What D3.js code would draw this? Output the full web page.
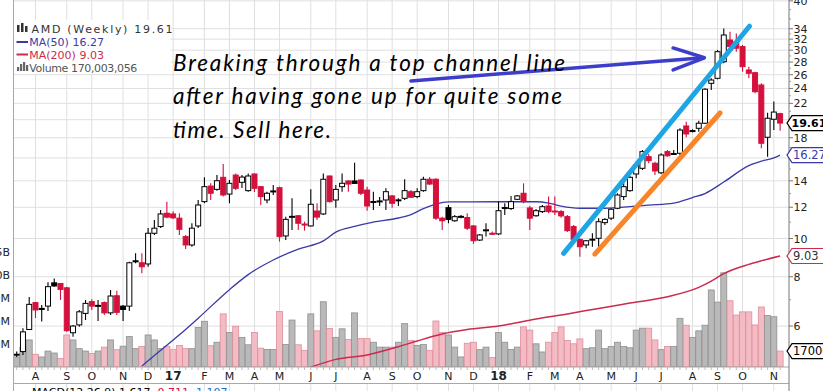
<!DOCTYPE html>
<html>
<head>
<meta charset="utf-8">
<script src="https://d3js.org/d3.v7.min.js"></script>
<style>
  body { margin: 0; background: #fff; }
  svg { display: block; font-family: "DejaVu Sans", Verdana, sans-serif; }
  .grid line { stroke: #dfdfdf; stroke-width: 1; }
  .axis-text { font-size: 11px; fill: #222; }
  .note { font-family: Lato, "Open Sans", sans-serif; font-style: italic; font-size: 22.5px; fill: #000; }
</style>
</head>
<body>
<svg id="chart"></svg>
<script>
// AMD weekly bars, first week = week of 11 Jul 2016, last = week of 12 Nov 2018
const opens = [5.07, 5.17, 5.88, 6.88, 6.65, 6.74, 7.72, 7.69, 7.50, 5.77,
  6.04, 6.46, 6.92, 6.76, 6.88, 6.48, 7.16, 6.74, 6.74, 8.78,
  8.68, 8.62, 10.31, 10.72, 11.59, 11.54, 11.26, 10.11, 9.63, 10.76,
  12.40, 13.58, 13.32, 14.29, 12.96, 14.48, 13.88, 13.22, 14.57, 13.53,
  12.52, 13.19, 13.45, 10.15, 11.34, 11.42, 10.88, 10.76, 11.74, 11.54,
  14.40, 12.52, 13.53, 13.99, 13.99, 14.07, 13.27, 12.40, 12.45, 12.52,
  12.82, 12.52, 12.64, 13.14, 12.77, 13.22, 14.13, 14.13, 11.26, 11.97,
  11.09, 11.36, 11.30, 10.76, 9.91, 10.51, 10.31, 10.27, 11.97, 11.91,
  12.57, 13.02, 11.95, 11.42, 11.70, 12.09, 11.74, 11.70, 11.36, 10.72,
  9.95, 9.63, 9.95, 10.01, 10.97, 11.26, 11.93, 12.77, 13.22, 14.57,
  15.06, 16.12, 15.51, 14.67, 16.60, 16.40, 16.44, 19.28, 18.75, 19.02,
  19.59, 24.73, 25.46, 28.05, 31.84, 31.52, 30.64, 26.73, 26.31, 24.49,
  18.05, 20.05, 20.72]
const highs = [5.17, 5.92, 7.11, 6.91, 6.78, 7.75, 7.92, 7.71, 7.55, 6.04,
  6.59, 6.99, 7.02, 6.99, 6.92, 7.40, 7.37, 6.78, 8.73, 9.18,
  9.18, 10.63, 11.14, 11.81, 12.40, 11.73, 11.59, 10.21, 10.93, 12.52,
  14.29, 13.80, 14.48, 15.45, 14.07, 14.62, 14.48, 14.62, 14.62, 13.58,
  13.14, 13.66, 13.53, 11.36, 12.64, 11.47, 11.03, 13.32, 12.28, 14.62,
  14.45, 13.66, 14.62, 14.02, 15.56, 14.10, 13.53, 13.14, 12.74, 13.40,
  12.89, 12.64, 14.13, 13.27, 13.40, 14.34, 14.31, 14.21, 11.36, 12.16,
  11.47, 11.47, 11.59, 10.82, 10.27, 10.93, 10.41, 12.40, 12.28, 12.82,
  12.89, 13.80, 12.09, 11.88, 12.16, 12.77, 12.77, 11.81, 11.47, 10.82,
  10.01, 9.91, 10.31, 11.26, 11.26, 11.93, 13.02, 14.07, 14.40, 15.65,
  16.76, 16.38, 15.65, 16.44, 16.76, 16.76, 19.02, 19.77, 18.92, 19.89,
  24.03, 25.46, 30.04, 34.06, 33.40, 33.09, 30.93, 27.25, 26.46, 24.73,
  20.84, 22.23, 20.84]
const lows = [5.01, 5.07, 5.86, 6.29, 6.16, 6.55, 7.55, 6.99, 5.80, 5.64,
  5.98, 6.22, 6.59, 6.18, 6.40, 6.40, 6.40, 6.18, 6.55, 8.65,
  8.16, 8.48, 10.21, 10.63, 11.26, 11.20, 10.21, 9.41, 9.53, 10.63,
  12.28, 12.52, 13.22, 12.77, 12.28, 13.27, 13.42, 13.14, 13.12, 12.16,
  12.28, 12.89, 9.82, 9.91, 10.51, 10.51, 10.47, 10.72, 11.14, 11.47,
  12.33, 11.97, 13.14, 13.14, 13.74, 12.89, 11.76, 11.81, 12.09, 11.81,
  11.97, 12.09, 12.52, 12.66, 12.64, 13.14, 13.66, 11.14, 10.51, 10.93,
  11.03, 11.25, 10.51, 9.69, 9.85, 10.11, 10.21, 10.21, 11.47, 11.81,
  12.52, 12.28, 10.51, 11.35, 11.61, 11.59, 11.47, 11.28, 10.39, 9.85,
  8.99, 9.45, 9.53, 9.53, 10.82, 11.14, 11.86, 12.52, 13.14, 14.21,
  14.91, 15.51, 14.48, 14.57, 16.12, 16.28, 16.28, 18.05, 18.58, 18.64,
  19.51, 23.79, 25.31, 27.78, 30.35, 29.74, 26.46, 25.46, 23.33, 16.93,
  16.12, 18.83, 18.75]
const closes = [5.09, 5.80, 6.81, 6.59, 6.64, 7.55, 7.58, 7.43, 5.84, 6.00,
  6.52, 6.85, 6.74, 6.77, 6.48, 7.15, 6.50, 6.61, 8.68, 8.73,
  8.48, 10.31, 10.62, 11.54, 11.33, 11.28, 10.55, 9.63, 10.62, 12.16,
  13.53, 13.02, 14.01, 12.89, 13.80, 13.40, 14.31, 14.40, 13.40, 12.77,
  13.02, 13.20, 10.11, 11.18, 11.38, 10.93, 10.87, 12.21, 11.33, 14.13,
  12.40, 13.32, 13.80, 13.74, 13.79, 13.02, 12.09, 12.41, 12.42, 13.14,
  12.28, 12.53, 13.22, 12.72, 13.14, 14.13, 13.74, 11.26, 11.09, 11.18,
  11.36, 11.38, 10.62, 9.87, 10.21, 10.52, 10.30, 11.76, 11.98, 12.40,
  12.82, 12.40, 11.26, 11.76, 12.04, 11.70, 11.68, 11.41, 10.47, 9.95,
  9.53, 9.87, 9.96, 11.03, 11.18, 11.86, 12.89, 13.53, 14.29, 15.36,
  16.60, 15.75, 14.83, 16.28, 16.20, 16.42, 18.83, 18.40, 18.77, 19.59,
  23.89, 25.21, 29.74, 32.78, 30.64, 30.35, 27.25, 26.22, 23.55, 17.43,
  20.17, 20.91, 19.61]
// weekly volume, millions of shares
const volumes = [106, 213, 291, 135, 106, 170, 149, 89, 345, 291,
  196, 170, 143, 170, 213, 291, 185, 223, 327, 196,
  220, 345, 291, 196, 223, 185, 231, 196, 196, 426,
  494, 228, 266, 574, 372, 440, 319, 238, 372, 202,
  188, 188, 600, 241, 507, 238, 178, 574, 390, 706,
  415, 319, 412, 295, 585, 305, 305, 266, 213, 213,
  213, 266, 468, 284, 231, 241, 178, 497, 372, 345,
  213, 106, 255, 266, 185, 213, 100, 372, 266, 188,
  213, 433, 398, 249, 160, 266, 372, 433, 284, 249,
  302, 196, 206, 398, 196, 220, 266, 220, 206, 398,
  419, 419, 291, 185, 220, 220, 526, 451, 319, 390,
  451, 834, 702, 1021, 717, 561, 596, 596, 454, 649,
  557, 543, 170]

// moving averages: [week index, value]
const ma50 = [[20, 4.75], [22, 5.05], [26, 5.7], [29, 6.28], [34, 7.42], [37, 8.1], [41, 8.82],
  [45, 9.4], [49, 9.86], [51, 10.38], [54, 10.73], [57, 11.0], [61, 11.27], [63, 11.5],
  [65, 11.9], [67, 12.22], [69, 12.38], [77, 12.39], [83, 12.39], [85, 12.3], [87, 12.08],
  [90, 11.93], [94, 11.93], [98, 12.04], [101, 12.15], [105, 12.3], [108, 12.7], [110, 13.0],
  [113, 13.9], [117, 15.3], [119, 15.7], [121, 16.0], [122, 16.27]]
const ma200 = [[47, 4.72], [51, 4.94], [56, 5.07], [61, 5.32], [64, 5.5], [68, 5.73], [72, 5.88],
  [77, 6.0], [83, 6.25], [88, 6.44], [93, 6.65], [98, 6.86], [104, 7.12], [109, 7.52],
  [111, 7.8], [113, 8.15], [117, 8.6], [119, 8.78], [122, 9.03]]

// hand drawn lines on the picture, in [week index, price]
const blueChannel = [[87.4, 9.17], [117.1, 34.5]]
const orangeChannel = [[92.4, 9.13], [112.4, 20.8]]
const arrowShaft = [[63, 25.07], [109.7, 28.7]]
const arrowHead = [[104.9, 30.4], [109.9, 28.7], [104.9, 26.73]]

const priceTicks = [6, 8, 10, 12, 14, 16, 18, 20, 22, 24, 26, 28, 30, 32, 34, 40]
const priceMinor = [7, 9, 11, 13, 15, 17, 19, 21, 23, 25, 27, 29, 31, 33, 36, 38]
const volumeTicks = [250, 500, 750, 1000, 1250]
const volumeTickLabels = ["250M", "500M", "750M", "1.00B", "1.25B"]
const monthLetters = ["J", "F", "M", "A", "M", "J", "J", "A", "S", "O", "N", "D"]
const noteLines = ["Breaking through a top channel line", "after having gone up for quite some", "time. Sell here."]

const width = 823, height = 391
const red = "#d4103c"
const plot = { left: 13.5, right: 789, top: 0, bottom: 367 }

const weeks = d3.timeMonday.range(new Date(2016, 6, 11), new Date(2018, 10, 13))

const x = d3.scaleLinear().domain([0, closes.length - 1]).range([16.7, 780.1])
const y = d3.scaleLog().domain([10, 34]).range([238.5, 28.74])
const yVol = d3.scaleLinear().domain([0, 1250]).range([366.7, 251.7])

const svg = d3.select("#chart").attr("width", width).attr("height", height)

svg.append("defs").append("clipPath").attr("id", "clip")
    .append("rect")
    .attr("x", plot.left).attr("y", plot.top)
    .attr("width", plot.right - plot.left).attr("height", plot.bottom - plot.top)

// month ticks: first Monday of every month
const monthTicks = weeks.map((d, i) => ({ d, i })).filter(w => w.d.getDate() <= 7)

// grid
const grid = svg.append("g").attr("class", "grid")
grid.selectAll(".v").data(monthTicks).enter().append("line")
    .attr("x1", d => x(d.i)).attr("x2", d => x(d.i))
    .attr("y1", plot.top).attr("y2", plot.bottom)
grid.selectAll(".h").data(priceTicks).enter().append("line")
    .attr("x1", plot.left).attr("x2", plot.right)
    .attr("y1", d => y(d)).attr("y2", d => y(d))
grid.selectAll(".m").data(monthTicks).enter().append("line")
    .attr("x1", d => x(d.i)).attr("x2", d => x(d.i))
    .attr("y1", 384).attr("y2", height)

const bars = closes.map((c, i) => ({
    i, o: opens[i], h: highs[i], l: lows[i], c, v: volumes[i],
    up: i === 0 || c >= closes[i - 1]
}))

const inner = svg.append("g").attr("clip-path", "url(#clip)")

// volume
inner.append("g").selectAll("rect").data(bars).enter().append("rect")
    .attr("x", d => x(d.i) - 3).attr("width", 6)
    .attr("y", d => yVol(d.v)).attr("height", d => yVol(0) - yVol(d.v))
    .attr("fill", d => d.up ? "#b9b9b9" : "#f3bcc4")
    .attr("stroke", d => d.up ? "#8f8f8f" : "#df8d9c")
    .attr("stroke-width", 0.8)

// moving averages
const maLine = d3.line().x(d => x(d[0])).y(d => y(d[1])).curve(d3.curveMonotoneX)
inner.append("path").attr("d", maLine(ma200))
    .attr("fill", "none").attr("stroke", "#cc2a4e").attr("stroke-width", 1.5)
inner.append("path").attr("d", maLine(ma50))
    .attr("fill", "none").attr("stroke", "#3a3aa6").attr("stroke-width", 1.3)

// candles
const candle = inner.append("g").selectAll("g").data(bars).enter().append("g")
candle.append("line")
    .attr("x1", d => x(d.i)).attr("x2", d => x(d.i))
    .attr("y1", d => y(d.h)).attr("y2", d => y(d.l))
    .attr("stroke", d => d.up ? "#000" : red).attr("stroke-width", 1.1)
candle.append("rect")
    .attr("x", d => x(d.i) - 2.5).attr("width", 5)
    .attr("y", d => Math.min(y(d.o), y(d.c)))
    .attr("height", d => Math.max(1, Math.abs(y(d.o) - y(d.c))))
    .attr("fill", d => d.c >= d.o ? "#fff" : (d.up ? "#000" : red))
    .attr("stroke", d => d.up ? "#000" : red).attr("stroke-width", 1)

// borders and axes
svg.append("line").attr("x1", plot.left).attr("x2", plot.left)
    .attr("y1", plot.top).attr("y2", height).attr("stroke", "#a8a8a8")
svg.append("line").attr("x1", plot.left).attr("x2", plot.right)
    .attr("y1", plot.bottom).attr("y2", plot.bottom).attr("stroke", "#a8a8a8")
svg.append("line").attr("x1", plot.left).attr("x2", plot.right)
    .attr("y1", 383.5).attr("y2", 383.5).attr("stroke", "#a8a8a8")
svg.append("line").attr("x1", plot.right).attr("x2", plot.right)
    .attr("y1", plot.top).attr("y2", height).attr("stroke", "#777")

svg.append("g").selectAll("line").data(bars).enter().append("line")
    .attr("x1", d => x(d.i)).attr("x2", d => x(d.i))
    .attr("y1", plot.bottom).attr("y2", plot.bottom + 3).attr("stroke", "#bbb")

const last = closes.length - 1
const tagValues = [closes[last], ma50[ma50.length - 1][1], ma200[ma200.length - 1][1]]

// tick labels that sit under a value tag are left out, as on the original
const shownTicks = priceTicks.filter(t => tagValues.every(v => Math.abs(y(t) - y(v)) > 9))

const priceAxis = svg.append("g")
priceAxis.selectAll("line.major").data(priceTicks).enter().append("line")
    .attr("x1", plot.right).attr("x2", plot.right + 4)
    .attr("y1", d => y(d)).attr("y2", d => y(d)).attr("stroke", "#777")
priceAxis.selectAll("line.minor").data(priceMinor).enter().append("line")
    .attr("x1", plot.right).attr("x2", plot.right + 2)
    .attr("y1", d => y(d)).attr("y2", d => y(d)).attr("stroke", "#999")
priceAxis.selectAll("text").data(shownTicks).enter().append("text")
    .attr("class", "axis-text")
    .attr("x", plot.right + 4.5).attr("y", d => y(d) + 4)
    .text(d => d)

svg.append("g").selectAll("text").data(volumeTicks).enter().append("text")
    .attr("class", "axis-text").attr("text-anchor", "end")
    .attr("x", 10).attr("y", d => yVol(d) + 4)
    .text((d, i) => volumeTickLabels[i])

svg.append("g").selectAll("text").data(monthTicks).enter().append("text")
    .attr("class", "axis-text").attr("text-anchor", "middle")
    .attr("x", d => x(d.i)).attr("y", 380)
    .style("font-weight", d => d.d.getMonth() === 0 ? "bold" : "normal")
    .style("font-size", d => d.d.getMonth() === 0 ? "12px" : "11px")
    .text(d => d.d.getMonth() === 0 ? String(d.d.getFullYear() % 100) : monthLetters[d.d.getMonth()])

// value tags on the right
function tag(yPos, label, stroke, color, bold) {
    const g = svg.append("g")
    g.append("path")
        .attr("d", `M${plot.right - 2},${yPos} L${plot.right + 3},${yPos - 7.5} H${width + 5} V${yPos + 7.5} H${plot.right + 3} Z`)
        .attr("fill", "#fff").attr("stroke", stroke).attr("stroke-width", 1.2)
    g.append("text").attr("x", plot.right + (bold ? 2.5 : 4)).attr("y", yPos + 4.2)
        .style("font-size", bold ? "11px" : "11.5px").style("font-weight", bold ? "bold" : "normal")
        .attr("fill", color).text(label)
}
tag(y(tagValues[0]), tagValues[0].toFixed(2), "#000", "#000", true)
tag(y(tagValues[1]), tagValues[1].toFixed(2), "#3a3aa6", "#3a3aa6", false)
tag(y(tagValues[2]), tagValues[2].toFixed(2), "#cc2a4e", "#333", false)
tag(yVol(volumes[last]), "170003056", "#000", "#000", false)

// legend
const legend = svg.append("g")
legend.append("rect").attr("x", 14.5).attr("y", 20).attr("width", 156).attr("height", 54).attr("fill", "#fff")
legend.append("g").selectAll("rect").data([[17, 25, 7], [21, 23, 9], [25, 26, 6]]).enter().append("rect")
    .attr("x", d => d[0]).attr("y", d => d[1]).attr("width", 2.5).attr("height", d => d[2]).attr("fill", "#333")
legend.append("text").attr("x", 31.5).attr("y", 32.5).attr("fill", "#333").style("font-size", "11px")
    .attr("textLength", 141).attr("lengthAdjust", "spacing")
    .text("AMD (Weekly) " + closes[last].toFixed(2))
legend.append("line").attr("x1", 16.5).attr("x2", 28).attr("y1", 42).attr("y2", 42)
    .attr("stroke", "#3a3aa6").attr("stroke-width", 2)
legend.append("text").attr("x", 29.3).attr("y", 46).attr("fill", "#3a3aa6").style("font-size", "11px")
    .text("MA(50) 16.27")
legend.append("line").attr("x1", 16.5).attr("x2", 28).attr("y1", 54.5).attr("y2", 54.5)
    .attr("stroke", "#cc2a4e").attr("stroke-width", 2)
legend.append("text").attr("x", 29.3).attr("y", 58.5).attr("fill", "#cc2a4e").style("font-size", "11px")
    .text("MA(200) 9.03")
legend.append("g").selectAll("rect").data([[17, 4], [20, 7], [23, 9], [26, 6]]).enter().append("rect")
    .attr("x", d => d[0]).attr("y", d => 71 - d[1]).attr("width", 2.2).attr("height", d => d[1]).attr("fill", "#666")
legend.append("text").attr("x", 29.3).attr("y", 71.5).attr("fill", "#555").style("font-size", "11px")
    .attr("textLength", 108).attr("lengthAdjust", "spacing")
    .text("Volume 170,003,056")

// MACD panel title (cut by the bottom edge)
const macd = svg.append("text").attr("x", 32).attr("y", 395.5).style("font-size", "11px")
macd.append("tspan").attr("fill", "#000").text("MACD(12,26,9) 1.617, ")
macd.append("tspan").attr("fill", red).text("0.711, ")
macd.append("tspan").attr("fill", "#1d6fd0").text("1.107")

// drawn annotations
const pt = d3.line().x(d => x(d[0])).y(d => y(d[1]))
svg.append("path").attr("d", pt(blueChannel)).attr("stroke", "#1ea5e3")
    .attr("stroke-width", 5).attr("stroke-linecap", "round").attr("fill", "none")
svg.append("path").attr("d", pt(orangeChannel)).attr("stroke", "#f7862b")
    .attr("stroke-width", 5).attr("stroke-linecap", "round").attr("fill", "none")
svg.append("path").attr("d", pt(arrowShaft)).attr("stroke", "#3d3dcc")
    .attr("stroke-width", 3.5).attr("stroke-linecap", "round").attr("fill", "none")
svg.append("path").attr("d", pt(arrowHead)).attr("stroke", "#3d3dcc")
    .attr("stroke-width", 3.5).attr("stroke-linecap", "round").attr("stroke-linejoin", "round").attr("fill", "none")

const noteWidths = [392, 389, 158]
svg.append("g").selectAll("text").data(noteLines).enter().append("text")
    .attr("class", "note")
    .attr("x", 173).attr("y", (d, i) => 71 + i * 33.3)
    .attr("textLength", (d, i) => noteWidths[i]).attr("lengthAdjust", "spacing")
    .text(d => d)
</script>
</body>
</html>
